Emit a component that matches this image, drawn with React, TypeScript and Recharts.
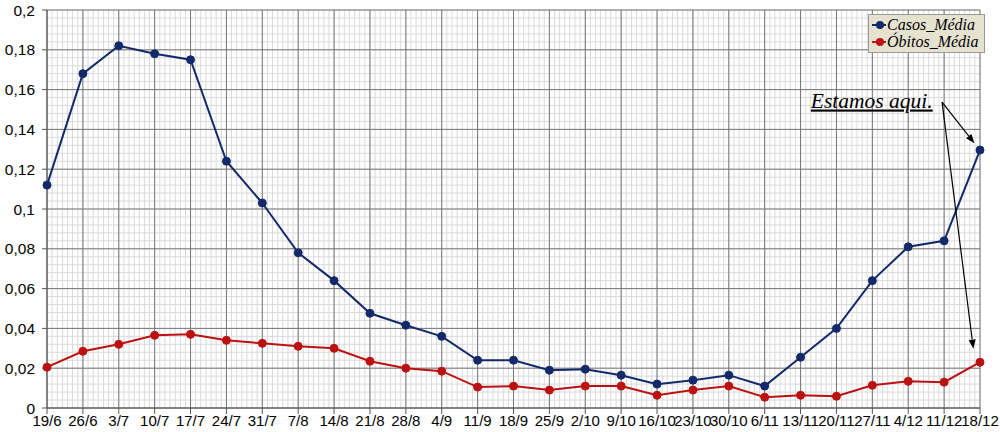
import {
  LineChart,
  Line,
  XAxis,
  YAxis,
  CartesianGrid,
  Legend,
  ReferenceLine,
  ReferenceDot,
} from "recharts";

const labels = [
  "19/6", "26/6", "3/7", "10/7", "17/7", "24/7", "31/7", "7/8", "14/8",
  "21/8", "28/8", "4/9", "11/9", "18/9", "25/9", "2/10", "9/10", "16/10",
  "23/10", "30/10", "6/11", "13/11", "20/11", "27/11", "4/12", "11/12", "18/12",
];

const casos = [
  0.112, 0.168, 0.182, 0.178, 0.175, 0.124, 0.103, 0.078, 0.064,
  0.0476, 0.0416, 0.036, 0.024, 0.024, 0.019, 0.0195, 0.0165, 0.012,
  0.014, 0.0165, 0.011, 0.0255, 0.04, 0.064, 0.081, 0.084, 0.1296,
];

const obitos = [
  0.0205, 0.0285, 0.032, 0.0365, 0.037, 0.034, 0.0325, 0.031, 0.03,
  0.0235, 0.02, 0.0185, 0.0105, 0.011, 0.009, 0.011, 0.011, 0.0064,
  0.009, 0.011, 0.0054, 0.0064, 0.0059, 0.0114, 0.0134, 0.013, 0.023,
];

const yTicks = [0, 0.02, 0.04, 0.06, 0.08, 0.1, 0.12, 0.14, 0.16, 0.18, 0.2];

const NAVY = "#13296a";
const RED = "#bb1111";

// one point per week, x measured in days
const data = labels.map((label, i) => ({
  day: i * 7,
  label,
  casos: casos[i],
  obitos: obitos[i],
}));

const lastDay = (labels.length - 1) * 7;
const majorX = labels.map((_, i) => i * 7);
const minorX = Array.from({ length: lastDay + 1 }, (_, i) => i);
const minorY = Array.from({ length: 51 }, (_, i) => +(i * 0.004).toFixed(3));

// annotation anchor (data coordinates)
const note = { x: 149, y: 0.151 };
const arrowFrom = { x: 174.6, y: 0.1537 };
const arrowTo = [
  { x: 180.9, y: 0.1331 },
  { x: 180.7, y: 0.0298 },
];

const fmtY = (v: number) => String(+v.toFixed(2)).replace(".", ",");

const Arrow = (p: any) => {
  const { x1, y1, x2, y2 } = p;
  const a = Math.atan2(y2 - y1, x2 - x1);
  const len = 9;
  const w = 3.5;
  const bx = x2 - len * Math.cos(a);
  const by = y2 - len * Math.sin(a);
  const pts = [
    `${x2},${y2}`,
    `${bx + w * Math.sin(a)},${by - w * Math.cos(a)}`,
    `${bx - w * Math.sin(a)},${by + w * Math.cos(a)}`,
  ].join(" ");
  return (
    <g>
      <line x1={x1} y1={y1} x2={bx} y2={by} stroke="#000" strokeWidth={1.2} />
      <polygon points={pts} fill="#000" />
    </g>
  );
};

const NoteText = (p: any) => (
  <text
    x={p.cx}
    y={p.cy}
    fontFamily="Liberation Serif"
    fontStyle="italic"
    fontSize={21.5}
    fill="#000"
    textDecoration="underline"
  >
    Estamos aqui.
  </text>
);

const LegendBox = () => (
  <div
    style={{
      background: "#e6e2d0",
      border: "1px solid #9a9a9a",
      padding: "1px 5px 2px 3px",
      fontFamily: "Liberation Serif",
      fontStyle: "italic",
      fontSize: 16,
      lineHeight: "17px",
      color: "#000",
    }}
  >
    {[
      { name: "Casos_Média", color: NAVY },
      { name: "Óbitos_Média", color: RED },
    ].map((s) => (
      <div key={s.name} style={{ display: "flex", alignItems: "center" }}>
        <svg width={14} height={10} style={{ marginRight: 1 }}>
          <line x1={0} y1={5} x2={14} y2={5} stroke={s.color} strokeWidth={2} />
          <circle cx={8} cy={5} r={4} fill={s.color} />
        </svg>
        {s.name}
      </div>
    ))}
  </div>
);

export default function App() {
  return (
    <div style={{ position: "absolute", left: 0, top: 0, background: "#fff" }}>
      <LineChart
        width={1000}
        height={432}
        data={data}
        margin={{ top: 10, right: 20, bottom: 0, left: 0 }}
      >
        <CartesianGrid
          verticalValues={minorX}
          horizontalValues={minorY}
          stroke="#dadada"
          strokeWidth={1}
        />
        <CartesianGrid stroke="#777" strokeWidth={1} />
        <XAxis
          dataKey="day"
          type="number"
          domain={[0, lastDay]}
          ticks={majorX}
          interval={0}
          tickFormatter={(v: number) => labels[Math.round(v / 7)]}
          tick={{ fill: "#000", fontSize: 15, fontFamily: "Liberation Sans" }}
          axisLine={{ stroke: "#555" }}
          tickLine={{ stroke: "#555" }}
          tickSize={6}
          tickMargin={1}
          height={24}
        />
        <XAxis
          xAxisId="minor"
          dataKey="day"
          type="number"
          domain={[0, lastDay]}
          ticks={minorX}
          interval={0}
          tickFormatter={() => ""}
          axisLine={false}
          tickLine={{ stroke: "#555" }}
          tickSize={4}
          height={0}
        />
        <YAxis
          domain={[0, 0.2]}
          ticks={yTicks}
          interval={0}
          tickFormatter={fmtY}
          tick={{ fill: "#000", fontSize: 15.5, fontFamily: "Liberation Sans" }}
          axisLine={{ stroke: "#555" }}
          tickLine={{ stroke: "#555" }}
          tickSize={5}
          tickMargin={7}
          width={47}
        />
        <Line
          dataKey="casos"
          stroke={NAVY}
          strokeWidth={2}
          dot={{ r: 4, fill: NAVY, stroke: NAVY, strokeWidth: 1 }}
          isAnimationActive={false}
        />
        <Line
          dataKey="obitos"
          stroke={RED}
          strokeWidth={2}
          dot={{ r: 4, fill: RED, stroke: RED, strokeWidth: 1 }}
          isAnimationActive={false}
        />
        {arrowTo.map((t, i) => (
          <ReferenceLine
            key={i}
            segment={[arrowFrom, t]}
            ifOverflow="visible"
            shape={Arrow}
          />
        ))}
        <ReferenceDot
          x={note.x}
          y={note.y}
          ifOverflow="visible"
          shape={NoteText}
        />
        <Legend
          verticalAlign="middle"
          layout="horizontal"
          content={LegendBox}
          wrapperStyle={{ position: "absolute", top: 14, left: 868, width: "auto" }}
        />
      </LineChart>
    </div>
  );
}
